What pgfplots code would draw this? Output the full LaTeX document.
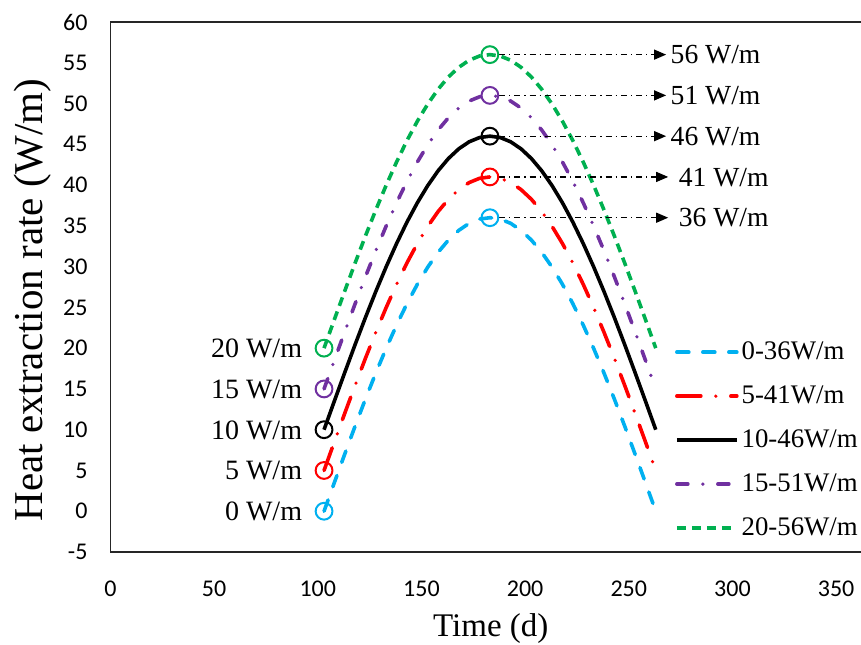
\documentclass[border=0pt]{standalone}
\usepackage{fontspec}
\setmainfont{Liberation Serif}
\newfontfamily\tickfont{Carlito}
\usepackage{pgfplots}
\pgfplotsset{compat=1.18}
\usepackage{pgfplotstable}
\usetikzlibrary{arrows.meta}

\definecolor{ccyan}{RGB}{0,176,240}
\definecolor{cred}{RGB}{255,0,0}
\definecolor{cpurple}{RGB}{112,48,160}
\definecolor{cgreen}{RGB}{0,176,80}

\pgfplotstableread{
t s0 s5 s10 s15 s20
103 0 5 10 15 20
108 3.53 8.53 13.53 18.53 23.53
113 7.02 12.02 17.02 22.02 27.02
118 10.45 15.45 20.45 25.45 30.45
123 13.78 18.78 23.78 28.78 33.78
128 16.97 21.97 26.97 31.97 36.97
133 20.00 25.00 30.00 35.00 40.00
138 22.84 27.84 32.84 37.84 42.84
143 25.46 30.46 35.46 40.46 45.46
148 27.83 32.83 37.83 42.83 47.83
153 29.93 34.93 39.93 44.93 49.93
158 31.75 36.75 41.75 46.75 51.75
163 33.26 38.26 43.26 48.26 53.26
168 34.45 39.45 44.45 49.45 54.45
173 35.31 40.31 45.31 50.31 55.31
178 35.83 40.83 45.83 50.83 55.83
183 36.00 41.00 46.00 51.00 56.00
188 35.83 40.83 45.83 50.83 55.83
193 35.31 40.31 45.31 50.31 55.31
198 34.45 39.45 44.45 49.45 54.45
203 33.26 38.26 43.26 48.26 53.26
208 31.75 36.75 41.75 46.75 51.75
213 29.93 34.93 39.93 44.93 49.93
218 27.83 32.83 37.83 42.83 47.83
223 25.46 30.46 35.46 40.46 45.46
228 22.84 27.84 32.84 37.84 42.84
233 20.00 25.00 30.00 35.00 40.00
238 16.97 21.97 26.97 31.97 36.97
243 13.78 18.78 23.78 28.78 33.78
248 10.45 15.45 20.45 25.45 30.45
253 7.02 12.02 17.02 22.02 27.02
258 3.53 8.53 13.53 18.53 23.53
263 0 5 10 15 20
}\curves

\pgfplotstableread{
t y
103 0
183 36
}\cyc
\pgfplotstableread{
t y
103 5
183 41
}\rec
\pgfplotstableread{
t y
103 10
183 46
}\blc
\pgfplotstableread{
t y
103 15
183 51
}\puc
\pgfplotstableread{
t y
103 20
183 56
}\grc

\tikzset{
  annot/.style={line width=0.6pt, black, dash pattern=on 3pt off 2pt on 0.6pt off 2pt, -{Triangle[length=6pt,width=5pt]}},
  pk/.style={anchor=base west, inner sep=0pt, font=\fontsize{13.8}{15}\selectfont, yshift=-4.6pt},
  lf/.style={anchor=base east, inner sep=0pt, font=\fontsize{14}{15}\selectfont, yshift=-4.7pt},
}

\begin{document}
\begin{tikzpicture}
\begin{axis}[
  scale only axis, width=375.25pt, height=265pt,
  at={(0,0)}, anchor=south west,
  xmin=0, xmax=362, ymin=-5, ymax=60,
  xtick={0,50,...,350}, ytick={-5,0,...,60},
  axis y line*=left,
  axis line style={line width=0.8pt, black!85, -},
  y axis line style={-},
  major tick length=0pt,
  tick label style={font=\tickfont\fontsize{12}{14}\selectfont},
  /pgf/number format/assume math mode=true,
  yticklabel style={xshift=-8pt},
  xticklabel style={yshift=-11pt},
  xlabel={Time (d)}, ylabel={Heat extraction rate (W/m)},
  xlabel style={font=\fontsize{16.5}{18}\selectfont, at={(axis description cs:0.5067,-0.160)}, anchor=base},
  ylabel style={font=\fontsize{20.5}{22}\selectfont, at={(axis description cs:-0.0912,0.4755)}, anchor=base},
  clip=false,
  legend cell align=left,
  legend image code/.code={\draw[#1] (0pt,0pt) -- (30pt,0pt);},
  legend style={at={(axis description cs:0.7517,0.4030)}, anchor=north west, draw=none, fill=none,
    font=\fontsize{13.4}{15}\selectfont, row sep=8.6pt, inner sep=0pt, nodes={inner sep=1.5pt}},
]
\addplot[ccyan, line width=1.8pt, line cap=round, dash pattern=on 6pt off 7pt] table[x=t,y=s0] {\curves};
\addlegendentry{0-36W/m}
\addplot[cred, line width=1.8pt, line cap=round, dash pattern=on 12pt off 7.5pt on 0pt off 7.5pt] table[x=t,y=s5] {\curves};
\addlegendentry{5-41W/m}
\addplot[black, line width=1.8pt] table[x=t,y=s10] {\curves};
\addlegendentry{10-46W/m}
\addplot[cpurple, line width=1.8pt, line cap=round, dash pattern=on 5.5pt off 7.5pt on 0pt off 7.5pt] table[x=t,y=s15] {\curves};
\addlegendentry{15-51W/m}
\addplot[cgreen, line width=1.8pt, dash pattern=on 4.5pt off 3pt] table[x=t,y=s20] {\curves};
\addlegendentry{20-56W/m}

\addplot[forget plot, only marks, mark=o, mark size=4.2pt, mark options={ccyan, line width=1pt, solid}] table[x=t,y=y] {\cyc};
\addplot[forget plot, only marks, mark=o, mark size=4.2pt, mark options={cred, line width=1pt, solid}] table[x=t,y=y] {\rec};
\addplot[forget plot, only marks, mark=o, mark size=4.2pt, mark options={black, line width=1pt, solid}] table[x=t,y=y] {\blc};
\addplot[forget plot, only marks, mark=o, mark size=4.2pt, mark options={cpurple, line width=1pt, solid}] table[x=t,y=y] {\puc};
\addplot[forget plot, only marks, mark=o, mark size=4.2pt, mark options={cgreen, line width=1pt, solid}] table[x=t,y=y] {\grc};

\draw[annot] (axis cs:187.5,56) -- (axis cs:268,56) node[pk, xshift=2pt] {56 W/m};
\draw[annot] (axis cs:187.5,51) -- (axis cs:268,51) node[pk, xshift=2pt] {51 W/m};
\draw[annot] (axis cs:187.5,46) -- (axis cs:268,46) node[pk, xshift=2pt] {46 W/m};
\draw[annot] (axis cs:187.5,41) -- (axis cs:269,41) node[pk, xshift=5pt] {41 W/m};
\draw[annot] (axis cs:187.5,36) -- (axis cs:269,36) node[pk, xshift=5pt] {36 W/m};

\path (axis cs:92.6,20) node[lf] {20 W/m};
\path (axis cs:92.6,15) node[lf] {15 W/m};
\path (axis cs:92.6,10) node[lf] {10 W/m};
\path (axis cs:92.6,5) node[lf] {5 W/m};
\path (axis cs:92.6,0) node[lf] {0 W/m};
\end{axis}
\pgfresetboundingbox
\useasboundingbox (-55.25pt,-46pt) rectangle (375.25pt,276pt);
\end{tikzpicture}
\end{document}
